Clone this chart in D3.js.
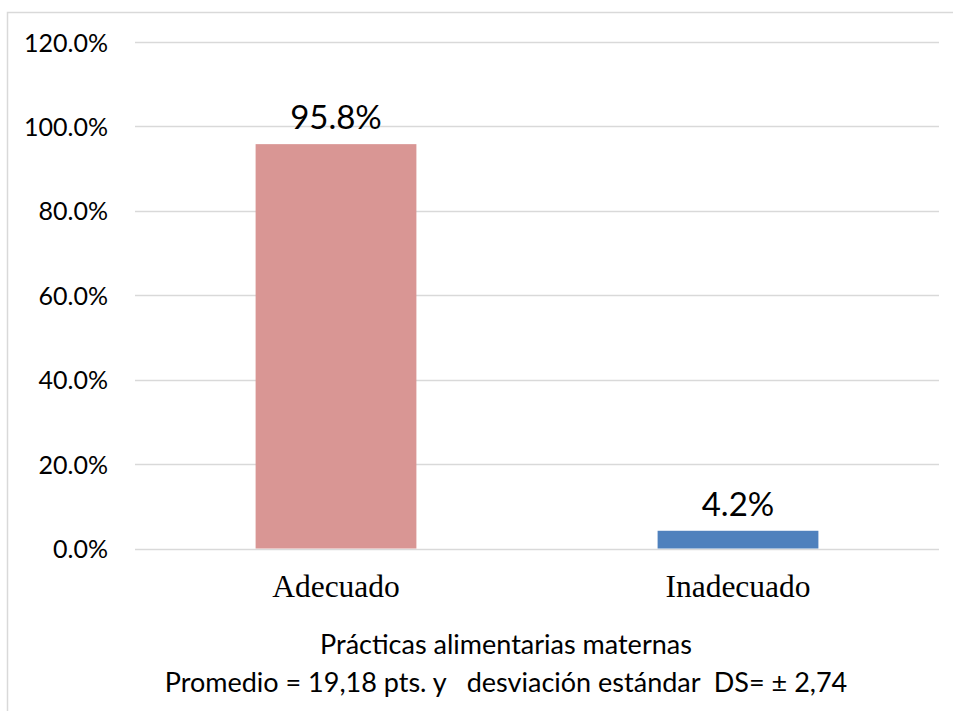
<!DOCTYPE html>
<html>
<head>
<meta charset="utf-8">
<script src="https://cdn.jsdelivr.net/npm/d3@7"></script>
<style>
  html, body { margin: 0; padding: 0; background: #fff; }
  svg { display: block; }
</style>
</head>
<body>
<svg id="chart" width="953" height="711"></svg>
<script>
const categories = ["Adecuado", "Inadecuado"];
const values = [95.8, 4.2];
const valueLabels = ["95.8%", "4.2%"];
const barColors = ["#d99694", "#4f81bd"];
const yTicks = [0, 20, 40, 60, 80, 100, 120];
const titleLines = ["Prácticas alimentarias maternas",
                    "Promedio = 19,18 pts. y   desviación estándar  DS= ± 2,74"];

const svg = d3.select("#chart");
const sansFont = "Lato, 'Open Sans', sans-serif";
const serifFont = "'Liberation Serif', 'Times New Roman', serif";

// outer frame (left + top border of chart area)
svg.append("path")
  .attr("d", "M7.5,711 V12.5 H953")
  .attr("fill", "none")
  .attr("stroke", "#d9d9d9")
  .attr("stroke-width", 1.5);

const plot = { left: 135, right: 939, top: 42, bottom: 548.5 };

const y = d3.scaleLinear().domain([0, 120]).range([plot.bottom, plot.top]);
const x = d3.scaleBand().domain(categories)
  .range([plot.left, plot.right])
  .paddingInner(0.6).paddingOuter(0.3);

// gridlines
svg.append("g")
  .selectAll("line")
  .data(yTicks)
  .join("line")
  .attr("x1", plot.left).attr("x2", plot.right)
  .attr("y1", d => Math.round(y(d)) + 0.5)
  .attr("y2", d => Math.round(y(d)) + 0.5)
  .attr("stroke", "#d9d9d9")
  .attr("stroke-width", 1.5);

// y axis labels
const yAxis = d3.axisLeft(y).tickValues(yTicks)
  .tickFormat(d => d3.format(".1f")(d) + "%")
  .tickSize(0).tickPadding(27);
const gy = svg.append("g").attr("transform", `translate(${plot.left},0)`).call(yAxis);
gy.select(".domain").remove();
gy.selectAll("text")
  .attr("font-family", sansFont)
  .attr("font-size", 25)
  .attr("fill", "#000")
  .attr("dy", "0.36em");

// bars
svg.append("g")
  .selectAll("rect")
  .data(values)
  .join("rect")
  .attr("x", (d, i) => x(categories[i]))
  .attr("width", x.bandwidth())
  .attr("y", d => y(d))
  .attr("height", d => y(0) - y(d))
  .attr("fill", (d, i) => barColors[i]);

// data labels
svg.append("g")
  .selectAll("text")
  .data(values)
  .join("text")
  .attr("x", (d, i) => x(categories[i]) + x.bandwidth() / 2)
  .attr("y", d => y(d) - 15)
  .attr("text-anchor", "middle")
  .attr("font-family", sansFont)
  .attr("font-size", 33)
  .attr("fill", "#000")
  .text((d, i) => valueLabels[i]);

// x axis category labels
const xAxis = d3.axisBottom(x).tickSize(0).tickPadding(0);
const gx = svg.append("g").attr("transform", `translate(0,${plot.bottom})`).call(xAxis);
gx.select(".domain").remove();
gx.selectAll("text")
  .attr("font-family", serifFont)
  .attr("font-size", 31.5)
  .attr("fill", "#000")
  .attr("dy", "0")
  .attr("y", 48.5);

// axis title (two lines)
svg.append("g")
  .selectAll("text")
  .data(titleLines)
  .join("text")
  .attr("x", 506)
  .attr("y", (d, i) => 654 + i * 38)
  .attr("text-anchor", "middle")
  .attr("font-family", sansFont)
  .attr("font-size", 27)
  .attr("fill", "#000")
  .style("white-space", "pre")
  .attr("xml:space", "preserve")
  .text(d => d);
</script>
</body>
</html>
